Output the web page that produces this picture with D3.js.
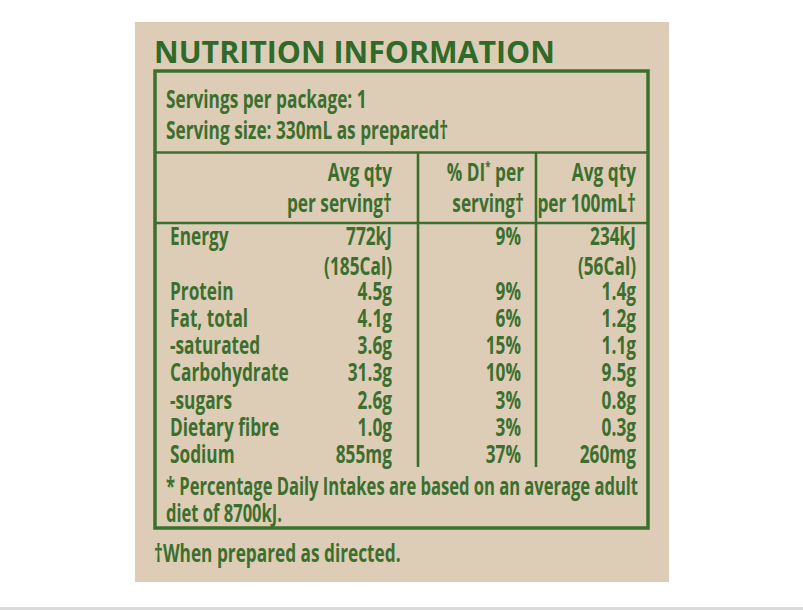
<!DOCTYPE html>
<html>

<head>
    <meta charset="utf-8">
    <script src="https://d3js.org/d3.v7.min.js"></script>
    <style>
        body { margin: 0; background: #fff; }
        text { font-family: "Open Sans", "Noto Sans", sans-serif; fill: #3c6f2e; }
    </style>
</head>

<body>
    <script type="text/javascript">
        // table values
        let nutrients = ["Energy", "Protein", "Fat, total", "-saturated", "Carbohydrate", "-sugars", "Dietary fibre", "Sodium"];
        let perServing = ["772kJ", "4.5g", "4.1g", "3.6g", "31.3g", "2.6g", "1.0g", "855mg"];
        let percentDI = ["9%", "9%", "6%", "15%", "10%", "3%", "3%", "37%"];
        let per100mL = ["234kJ", "1.4g", "1.2g", "1.1g", "9.5g", "0.8g", "0.3g", "260mg"];
        let energyCal = ["(185Cal)", "(56Cal)"];
        let headers = [["Avg qty", "per serving†"], ["% DI* per", "serving†"], ["Avg qty", "per 100mL†"]];
        let servingLines = ["Servings per package: 1", "Serving size: 330mL as prepared†"];
        let footnote = ["* Percentage Daily Intakes are based on an average adult", "diet of 8700kJ."];
        let preparedNote = "†When prepared as directed.";

        let width = 803, height = 610;
        let green = "#3c6f2e";
        let sx = 0.69; // condensed look

        let svg = d3.select("body")
            .append("svg")
            .attr("width", width)
            .attr("height", height);

        // panel
        svg.append("rect")
            .attr("x", 135).attr("y", 22)
            .attr("width", 534).attr("height", 560)
            .attr("fill", "#ddcdb7");

        svg.append("rect")
            .attr("x", 0).attr("y", 607)
            .attr("width", width).attr("height", 3)
            .attr("fill", "#dadada");

        function label(g, str, x, y, anchor, k) {
            return g.append("text")
                .attr("transform", `translate(${x},${y}) scale(${sx * (k || 1)},1)`)
                .attr("text-anchor", anchor || "start")
                .attr("font-size", 25)
                .attr("font-weight", 700)
                .text(str);
        }

        // title
        let title = svg.append("text")
            .attr("font-size", 31)
            .attr("font-weight", 700)
            .style("fill", "#2f6a28")
            .text("NUTRITION INFORMATION");
        let tl = title.node().getComputedTextLength();
        title.attr("transform", `translate(154,63) scale(${401 / tl},1)`);

        // box + rules
        let box = svg.append("g").attr("stroke", green).attr("fill", "none");
        box.append("rect")
            .attr("x", 155).attr("y", 71)
            .attr("width", 493).attr("height", 457)
            .attr("stroke-width", 3.5);
        box.append("line").attr("x1", 155).attr("x2", 648).attr("y1", 152.5).attr("y2", 152.5).attr("stroke-width", 2.6);
        box.append("line").attr("x1", 155).attr("x2", 648).attr("y1", 223).attr("y2", 223).attr("stroke-width", 2.6);

        let colRight = [392, 524, 636];
        let dividers = [418, 536];
        box.selectAll("line.div")
            .data(dividers)
            .join("line")
            .attr("class", "div")
            .attr("x1", d => d).attr("x2", d => d)
            .attr("y1", 152).attr("y2", 467)
            .attr("stroke-width", 2.6);

        let g = svg.append("g");

        // serving info
        servingLines.forEach((s, i) => label(g, s, 166, 108 + i * 31));

        // headers
        headers.forEach((h, c) => {
            h.forEach((s, i) => {
                let t = label(g, "", colRight[c], 181 + i * 31, "end");
                if (s.indexOf("*") >= 0) {
                    let parts = s.split("*");
                    t.append("tspan").text(parts[0]);
                    t.append("tspan").attr("font-size", 14).attr("dy", -9).text("*");
                    t.append("tspan").attr("dy", 9).text(parts[1]);
                } else {
                    t.text(s);
                }
            });
        });

        // rows: Energy takes two lines
        let lineIdx = nutrients.map((d, i) => i === 0 ? 0 : i + 1);
        let y = d3.scaleLinear().domain([0, 8]).range([245, 463]);

        nutrients.forEach((n, i) => {
            let yy = y(lineIdx[i]);
            label(g, n, 170, yy);
            label(g, perServing[i], colRight[0], yy, "end");
            label(g, percentDI[i], colRight[1] - 3, yy, "end");
            label(g, per100mL[i], colRight[2], yy, "end");
        });
        label(g, energyCal[0], colRight[0], y(1) + 3, "end");
        label(g, energyCal[1], colRight[2], y(1) + 3, "end");

        // footnotes
        footnote.forEach((s, i) => label(g, s, 166, 495 + i * 27, "start", 0.96));
        label(g, preparedNote, 154, 562);
    </script>
</body>

</html>
